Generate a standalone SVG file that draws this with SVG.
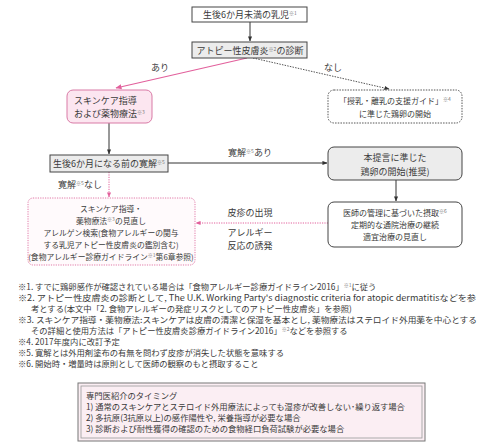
<svg xmlns="http://www.w3.org/2000/svg" width="490" height="444" viewBox="0 0 490 444">
<defs>
<style>
text{font-family:"Noto Sans CJK JP","Noto Sans",sans-serif;fill:#3a3a3a;}
.c{text-anchor:middle;}
.b{font-size:9px;}
.s{font-size:8px;}
.r{font-size:7.8px;}
.f{font-size:8.3px;}
.sup{font-size:5px;fill:#777;}
.box{fill:#fff;stroke:#444;stroke-width:1;}
.gray{fill:#ececec;stroke:#444;stroke-width:1;}
.ln{stroke:#333;stroke-width:1;fill:none;}
.pk{stroke:#e2609c;stroke-width:1.2;fill:none;}
.pkd{stroke:#e2609c;stroke-width:1;fill:none;stroke-dasharray:1.2,1.2;}
.gd{stroke:#555;stroke-width:1;fill:none;stroke-dasharray:1.5,1.2;}
</style>
<marker id="ah" viewBox="0 0 6 6" refX="5.5" refY="3" markerWidth="5" markerHeight="5" orient="auto"><path d="M0,0.5 L6,3 L0,5.5z" fill="#333"/></marker>
<marker id="ahp" viewBox="0 0 6 6" refX="5.5" refY="3" markerWidth="5" markerHeight="5" orient="auto"><path d="M0,0.5 L6,3 L0,5.5z" fill="#e2609c"/></marker>
</defs>
<rect width="490" height="444" fill="#fff"/>

<g id="connectors">
<line class="ln" x1="250" y1="22" x2="250" y2="41" marker-end="url(#ah)"/>
<line class="pk" x1="247" y1="58" x2="116" y2="88" marker-end="url(#ahp)"/>
<line class="gd" x1="253" y1="58" x2="389" y2="89" marker-end="url(#ah)"/>
<line class="ln" x1="109" y1="123" x2="109" y2="154" marker-end="url(#ah)"/>
<line class="ln" x1="168" y1="163" x2="327" y2="163" marker-end="url(#ah)"/>
<line class="ln" x1="396" y1="180" x2="396" y2="201" marker-end="url(#ah)"/>
<line class="pkd" x1="109" y1="172" x2="109" y2="197" marker-end="url(#ahp)"/>
<line class="pkd" x1="328" y1="223" x2="196" y2="223" marker-end="url(#ahp)"/>
<text class="b c" x="160" y="71">あり</text>
<text class="b c" x="333" y="71">なし</text>
<text class="b c" x="250" y="156">寛解<tspan class="sup" dy="-3">※5</tspan><tspan dy="3">あり</tspan></text>
<text class="b c" x="80" y="188">寛解<tspan class="sup" dy="-3">※5</tspan><tspan dy="3">なし</tspan></text>
<text class="b c" x="250" y="216">皮疹の出現</text>
<text class="b c" x="250" y="236">アレルギー</text>
<text class="b c" x="250" y="249">反応の誘発</text>
</g>

<g id="infant">
<rect class="box" x="192" y="7" width="115" height="15"/>
<text class="b c" x="250" y="18">生後6か月未満の乳児<tspan class="sup" dy="-3">※1</tspan></text>
</g>

<g id="diagnosis">
<rect class="gray" x="192" y="42" width="115" height="16"/>
<text class="b c" x="250" y="54">アトピー性皮膚炎<tspan class="sup" dy="-3">※2</tspan><tspan dy="3">の診断</tspan></text>
</g>

<g id="skincare">
<rect x="67" y="90" width="85" height="33" rx="6" fill="#fce6f0" stroke="#d97aa6" stroke-width="1"/>
<text class="b" x="74" y="104">スキンケア指導</text>
<text class="b" x="74" y="117">および薬物療法<tspan class="sup" dy="-3">※3</tspan></text>
</g>

<g id="guide">
<rect x="328" y="90" width="134" height="33" rx="6" fill="#fff" stroke="#555" stroke-width="1" stroke-dasharray="1.5,1.2"/>
<text class="s c" x="395" y="104">「授乳・離乳の支援ガイド」<tspan class="sup" dy="-3">※4</tspan></text>
<text class="s c" x="395" y="117">に準じた鶏卵の開始</text>
</g>

<g id="remission">
<rect class="gray" x="50" y="155" width="118" height="17"/>
<text class="b c" x="109" y="167">生後6か月になる前の寛解<tspan class="sup" dy="-3">※5</tspan></text>
</g>

<g id="recommend">
<rect class="gray" x="328" y="147" width="134" height="33" rx="6"/>
<text class="b c" x="395" y="161">本提言に準じた</text>
<text class="b c" x="395" y="175">鶏卵の開始(推奨)</text>
</g>

<g id="doctor">
<rect class="box" x="328" y="202" width="134" height="45" rx="6"/>
<text class="s c" x="395" y="216">医師の管理に基づいた摂取<tspan class="sup" dy="-3">※6</tspan></text>
<text class="s c" x="395" y="228">定期的な通院治療の継続</text>
<text class="s c" x="395" y="240">適宜治療の見直し</text>
</g>

<g id="review">
<rect x="28" y="198" width="167" height="67" rx="5" fill="#fffafc" stroke="#e07aa8" stroke-width="1" stroke-dasharray="1.2,1.2"/>
<text class="r c" x="111" y="212">スキンケア指導・</text>
<text class="r c" x="111" y="224">薬物療法<tspan class="sup" dy="-3">※3</tspan><tspan dy="3">の見直し</tspan></text>
<text class="r c" x="111" y="236">アレルゲン検索(食物アレルギーの関与</text>
<text class="r c" x="111" y="248">する乳児アトピー性皮膚炎の鑑別含む)</text>
<text class="r c" x="111" y="260">(食物アレルギー診療ガイドライン<tspan class="sup" dy="-3">※1</tspan><tspan dy="3">第6章参照)</tspan></text>
</g>

<g id="notes">
<text class="f" x="18" y="290">※1. すでに鶏卵感作が確認されている場合は「食物アレルギー診療ガイドライン2016」<tspan class="sup" dy="-3">※1</tspan><tspan dy="3">に従う</tspan></text>
<text class="f" x="18" y="301" textLength="458" lengthAdjust="spacingAndGlyphs">※2. アトピー性皮膚炎の診断として, The U.K. Working Party's diagnostic criteria for atopic dermatitisなどを参</text>
<text class="f" x="31" y="312">考とする(本文中「2. 食物アレルギーの発症リスクとしてのアトピー性皮膚炎」を参照)</text>
<text class="f" x="18" y="323" textLength="459" lengthAdjust="spacingAndGlyphs">※3. スキンケア指導・薬物療法:スキンケアは皮膚の清潔と保湿を基本とし, 薬物療法はステロイド外用薬を中心とする</text>
<text class="f" x="31" y="334">その詳細と使用方法は「アトピー性皮膚炎診療ガイドライン2016」<tspan class="sup" dy="-3">※2</tspan><tspan dy="3">などを参照する</tspan></text>
<text class="f" x="18" y="345">※4. 2017年度内に改訂予定</text>
<text class="f" x="18" y="356">※5. 寛解とは外用剤塗布の有無を問わず皮疹が消失した状態を意味する</text>
<text class="f" x="18" y="367">※6. 開始時・増量時は原則として医師の観察のもと摂取すること</text>
</g>

<g id="referral">
<rect x="78" y="383" width="347" height="58" fill="#fbeef3" stroke="#777" stroke-width="1"/>
<rect x="81" y="386" width="341" height="52" fill="none" stroke="#999" stroke-width="0.8"/>
<text class="f" x="86" y="399">専門医紹介のタイミング</text>
<text class="f" x="86" y="410">1) 通常のスキンケアとステロイド外用療法によっても湿疹が改善しない･繰り返す場合</text>
<text class="f" x="86" y="421">2) 多抗原(3抗原以上)の感作陽性や, 栄養指導が必要な場合</text>
<text class="f" x="86" y="432">3) 診断および耐性獲得の確認のための食物経口負荷試験が必要な場合</text>
</g>
</svg>
